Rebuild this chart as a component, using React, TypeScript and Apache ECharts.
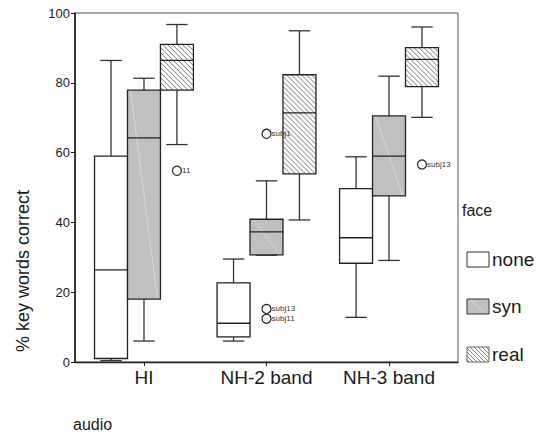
import React, { useEffect, useRef } from "react";
import * as echarts from "echarts";

const categories = ["HI", "NH-2 band", "NH-3 band"];
const faces = ["none", "syn", "real"];
// per category: [min, q1, median, q3, max]
const noneStats = [
  [0.4, 1.0, 26.4, 59.0, 86.4],
  [6.0, 7.2, 11.1, 22.7, 29.5],
  [12.8, 28.3, 35.6, 49.7, 58.8],
];
const synStats = [
  [6.0, 18.0, 64.2, 77.9, 81.3],
  [30.6, 30.7, 37.3, 40.9, 51.9],
  [29.1, 47.6, 59.0, 70.5, 81.9],
];
const realStats = [
  [62.3, 77.9, 86.4, 91.0, 96.7],
  [40.7, 53.9, 71.4, 82.3, 94.9],
  [70.1, 78.9, 86.7, 90.1, 96.0],
];
const outlierCat = [0, 1, 1, 1, 2];
const outlierFace = [2, 1, 1, 1, 2];
const outlierValues = [54.8, 65.4, 15.2, 12.4, 56.6];
const outlierLabels = ["11", "subj1", "subj13", "subj11", "subj13"];
const yTicks = [0, 20, 40, 60, 80, 100];

const BW = 0.269;
const FONT = "'Liberation Sans', Arial, sans-serif";
const fills = ["#ffffff", "#c0c0c0", "#ffffff"];

function hatch(x0: number, y0: number, x1: number, y1: number, s: number, color: string) {
  const out: any[] = [];
  for (let c = x0 - y1 + s / 2; c < x1 - y0; c += s) {
    const ya = Math.max(y0, x0 - c);
    const yb = Math.min(y1, x1 - c);
    if (yb - ya < 0.5) continue;
    out.push({
      type: "line",
      silent: true,
      shape: { x1: ya + c, y1: ya, x2: yb + c, y2: yb },
      style: { stroke: color, lineWidth: 0.8 },
    });
  }
  return out;
}

export default function App() {
  const ref = useRef<HTMLDivElement>(null);
  useEffect(() => {
    const chart = echarts.init(ref.current!, null, { renderer: "svg" });
    const allStats = [noneStats, synStats, realStats];
    const boxData: any[] = [];
    allStats.forEach((st, f) =>
      st.forEach((s, c) => boxData.push([c, f, ...s]))
    );
    const outData = outlierValues.map((v, i) => ({
      value: [outlierCat[i] + (outlierFace[i] - 1) * BW, v],
      name: outlierLabels[i],
    }));

    const renderItem = (params: any, api: any) => {
      const cat = api.value(0);
      const face = api.value(1);
      const xc = cat + (face - 1) * BW;
      const p = (v: number) => api.coord([xc, v]);
      const cx = p(0)[0];
      const yMin = p(api.value(2))[1];
      const yQ1 = p(api.value(3))[1];
      const yMed = p(api.value(4))[1];
      const yQ3 = p(api.value(5))[1];
      const yMax = p(api.value(6))[1];
      const half = api.size([BW, 0])[0] / 2;
      const cap = half * 0.65;
      const lc = "#333";
      const children: any[] = [
        { type: "line", shape: { x1: cx, y1: yMax, x2: cx, y2: yQ3 }, style: { stroke: lc, lineWidth: 1.3 } },
        { type: "line", shape: { x1: cx, y1: yQ1, x2: cx, y2: yMin }, style: { stroke: lc, lineWidth: 1.3 } },
        { type: "line", shape: { x1: cx - cap, y1: yMax, x2: cx + cap, y2: yMax }, style: { stroke: lc, lineWidth: 1.3 } },
        { type: "line", shape: { x1: cx - cap, y1: yMin, x2: cx + cap, y2: yMin }, style: { stroke: lc, lineWidth: 1.3 } },
        {
          type: "rect",
          shape: { x: cx - half, y: yQ3, width: half * 2, height: yQ1 - yQ3 },
          style: { fill: fills[face], stroke: "none" },
        },
      ];
      if (face === 2) {
        children.push(...hatch(cx - half, yQ3, cx + half, yQ1, 5, "#555"));
      }
      if (face === 1) {
        children.push({
          type: "line",
          shape: { x1: cx - half + 3, y1: yQ3, x2: cx + half - 3, y2: yQ1 },
          style: { stroke: "rgba(255,255,255,0.45)", lineWidth: 0.8 },
        });
      }
      children.push(
        {
          type: "rect",
          shape: { x: cx - half, y: yQ3, width: half * 2, height: yQ1 - yQ3 },
          style: { fill: "none", stroke: "#222", lineWidth: 1.3 },
        },
        { type: "line", shape: { x1: cx - half, y1: yMed, x2: cx + half, y2: yMed }, style: { stroke: "#222", lineWidth: 1.3 } }
      );
      return { type: "group", children };
    };

    const legendItems: any[] = [];
    const ly = [252, 299, 347];
    faces.forEach((f, i) => {
      legendItems.push({
        type: "rect",
        shape: { x: 467, y: ly[i], width: 22, height: 15 },
        style: { fill: fills[i], stroke: "none" },
      });
      if (i === 2) legendItems.push(...hatch(467, ly[i], 489, ly[i] + 15, 4, "#666"));
      if (i === 1)
        legendItems.push({
          type: "line",
          shape: { x1: 470, y1: ly[i], x2: 486, y2: ly[i] + 15 },
          style: { stroke: "rgba(255,255,255,0.45)", lineWidth: 0.8 },
        });
      legendItems.push({
        type: "rect",
        shape: { x: 467, y: ly[i], width: 22, height: 15 },
        style: { fill: "none", stroke: i === 2 ? "#666" : "#333", lineWidth: 1 },
      });
      legendItems.push({
        type: "text",
        x: 492,
        y: ly[i] + 7,
        style: { text: f, font: `19px ${FONT}`, fill: "#1a1a1a", verticalAlign: "middle" },
      });
    });

    chart.setOption({
      animation: false,
      backgroundColor: "#fff",
      grid: {
        left: 75,
        top: 13,
        width: 383,
        height: 349,
        show: true,
        borderColor: "#555",
        borderWidth: 1,
        backgroundColor: "transparent",
      },
      xAxis: {
        type: "value",
        min: -0.563,
        max: 2.563,
        splitLine: { show: false },
        axisLine: { show: true, onZero: false, lineStyle: { color: "#222", width: 1.3 } },
        axisTick: { show: true, customValues: [0, 1, 2], length: 4, lineStyle: { color: "#222" } },
        axisLabel: {
          customValues: [0, 1, 2],
          formatter: (v: number) => categories[Math.round(v)] ?? "",
          fontSize: 19,
          fontFamily: FONT,
          color: "#1a1a1a",
          margin: 6,
        },
      },
      yAxis: {
        type: "value",
        min: 0,
        max: 100,
        interval: 20,
        splitLine: { show: false },
        axisLine: { show: true, onZero: false, lineStyle: { color: "#111", width: 1.5 } },
        axisTick: { show: true, length: 4, lineStyle: { color: "#111" } },
        axisLabel: {
          formatter: (v: number) => (yTicks.includes(v) ? String(v) : ""),
          fontSize: 13,
          fontFamily: FONT,
          color: "#1a1a1a",
          margin: 5,
        },
      },
      series: [
        {
          type: "custom",
          renderItem,
          data: boxData,
          encode: { x: 0, y: [2, 6] },
          clip: false,
          z: 2,
        },
        {
          type: "scatter",
          data: outData,
          symbol: "circle",
          symbolSize: 9,
          itemStyle: { color: "#ffffff", borderColor: "#222", borderWidth: 1.2, opacity: 1 },
          label: {
            show: true,
            position: "right",
            distance: 0,
            formatter: (p: any) => p.name,
            fontSize: 8,
            fontFamily: FONT,
            color: "#333",
          },
          z: 3,
        },
      ],
      graphic: [
        {
          type: "text",
          x: 23,
          y: 271,
          rotation: Math.PI / 2,
          style: {
            text: "% key words correct",
            font: `18px ${FONT}`,
            fill: "#1a1a1a",
            align: "center",
            verticalAlign: "middle",
          },
        },
        {
          type: "text",
          x: 73,
          y: 424,
          style: { text: "audio", font: `16px ${FONT}`, fill: "#1a1a1a", verticalAlign: "middle" },
        },
        {
          type: "text",
          x: 462,
          y: 210,
          style: { text: "face", font: `16px ${FONT}`, fill: "#1a1a1a", verticalAlign: "middle" },
        },
        ...legendItems,
      ],
    });
    return () => chart.dispose();
  }, []);
  return <div ref={ref} style={{ width: 544, height: 432, position: "absolute", left: 0, top: 0 }} />;
}
